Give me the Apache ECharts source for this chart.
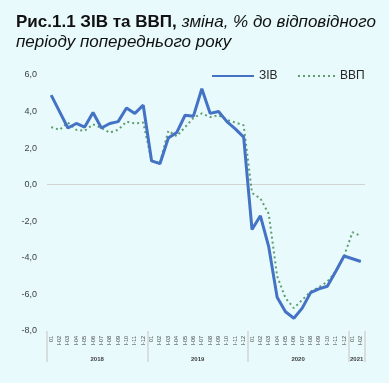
<!DOCTYPE html>
<html><head><meta charset="utf-8">
<script src="https://cdn.jsdelivr.net/npm/echarts@6/dist/echarts.min.js"></script>
<style>html,body{margin:0;padding:0;background:#e8fafc;}#c{width:389px;height:383px;}</style>
</head><body><div id="c"></div>
<script>
var monthLabels = ['01','І-02','І-03','І-04','І-05','І-06','І-07','І-08','І-09','І-10','І-11','І-12'];
var categories = monthLabels.concat(monthLabels, monthLabels, ['01','І-02']);
var years = ['2018','2019','2020','2021'];
var yearCenters = [6, 18, 30, 37];
var yearBounds = [0, 12, 24, 36, 38];
var ziv = [4.9,4.0,3.1,3.35,3.15,3.95,3.1,3.35,3.45,4.2,3.9,4.35,
           1.3,1.15,2.55,2.85,3.8,3.75,5.25,3.9,4.0,3.45,3.05,2.6,
           -2.45,-1.7,-3.4,-6.15,-6.95,-7.3,-6.75,-5.9,-5.7,-5.55,-4.75,-3.9,
           -4.05,-4.2];
var vvp = [3.15,3.0,3.4,3.0,2.95,3.3,3.1,2.85,3.0,3.45,3.35,3.4,
           1.3,1.2,2.95,2.65,3.15,3.65,3.9,3.7,3.8,3.55,3.4,3.25,
           -0.45,-0.75,-1.6,-5.0,-6.2,-6.75,-6.3,-5.85,-5.6,-5.3,-4.75,-3.9,
           -2.6,-2.8];
var yTicks = [-8,-6,-4,-2,0,2,4,6];

var chart = echarts.init(document.getElementById('c'), null, {renderer:'canvas'});
var font = 'Liberation Sans';
chart.setOption({
  backgroundColor: '#e8fafc',
  animation: false,
  title: {
    left: 11, top: 7,
    text: '{b|Рис.1.1 ЗІВ та ВВП,} {i|зміна, % до відповідного}\n{i|періоду попереднього року}',
    textStyle: {
      fontWeight: 'normal',
      rich: {
        b: {fontFamily: font, fontSize: 17, fontWeight: 'bold', color: '#111', lineHeight: 20},
        i: {fontFamily: font, fontSize: 17, fontWeight: 'normal', fontStyle: 'italic', color: '#111', lineHeight: 20}
      }
    }
  },
  legend: [
    {data: ['ЗІВ'], left: 211, top: 70, padding: 0, itemWidth: 42, itemHeight: 10, itemGap: 5,
     itemStyle: {opacity: 0},
     textStyle: {fontFamily: font, fontSize: 12, color: '#262626'}},
    {data: ['ВВП'], left: 297, top: 70, padding: 0, itemWidth: 37, itemHeight: 10, itemGap: 6,
     itemStyle: {opacity: 0},
     textStyle: {fontFamily: font, fontSize: 12, color: '#262626'}}
  ],
  grid: {left: 47, right: 24, top: 75, bottom: 52},
  xAxis: [
    {type: 'category', data: categories, boundaryGap: true,
     axisLine: {show: false}, axisTick: {show: false},
     axisLabel: {rotate: 90, interval: 0, fontSize: 5.5, fontFamily: font, color: '#404040', margin: 5}},
    {type: 'value', min: 0, max: 38, position: 'bottom',
     axisLine: {show: false}, splitLine: {show: false},
     axisTick: {show: true, customValues: yearBounds, length: 31, lineStyle: {color: '#d3d3d3', width: 1.5}},
     axisLabel: {customValues: yearCenters, fontSize: 6, fontFamily: font, fontWeight: 'bold', color: '#404040', margin: 25,
       formatter: function (v) { return years[yearCenters.indexOf(v)]; }}}
  ],
  yAxis: {
    type: 'value', min: -8, max: 6, interval: 2,
    axisLine: {show: false}, axisTick: {show: false},
    axisLabel: {fontSize: 9, fontFamily: font, color: '#404040', margin: 10,
      formatter: function (v) { return v.toFixed(1).replace('.', ','); }},
    splitLine: {show: true, lineStyle: {color: yTicks.map(function (t) { return t === 0 ? '#d3d3d3' : 'rgba(0,0,0,0)'; }), width: 1.2}}
  },
  series: [
    {name: 'ЗІВ', type: 'line', data: ziv, symbol: 'none', xAxisIndex: 0,
     lineStyle: {color: '#4472c4', width: 3}, itemStyle: {color: '#4472c4'}, z: 3},
    {name: 'ВВП', type: 'line', data: vvp, symbol: 'none', xAxisIndex: 0,
     lineStyle: {color: '#5e9e6e', width: 2, type: [2, 3]}, itemStyle: {color: '#5e9e6e'}, z: 2}
  ]
});
</script></body></html>
